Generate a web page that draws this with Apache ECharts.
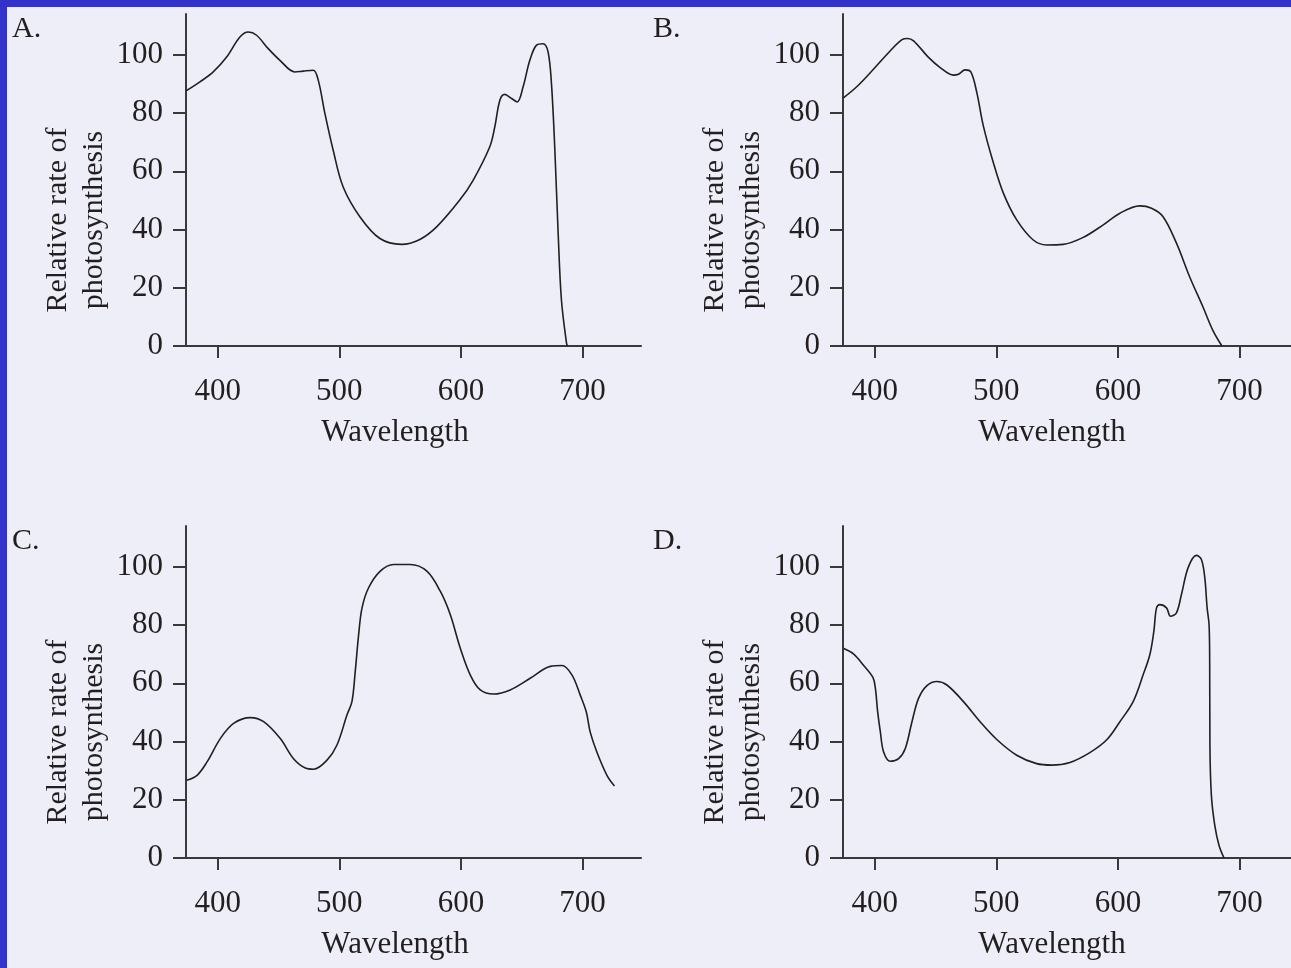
<!DOCTYPE html>
<html>
<head>
<meta charset="utf-8">
<script src="https://cdn.jsdelivr.net/npm/echarts@6/dist/echarts.min.js"></script>
<style>
  html, body { margin: 0; padding: 0; background: #eeeef8; }
  #main { width: 1291px; height: 968px; }
</style>
</head>
<body>
<div id="main"></div>
<script type="text/javascript">
// wavelength (nm) and relative rate
var wlA = [374, 385.5, 396.4, 407.4, 418.3, 425.2, 432, 441.6, 451.2, 463.5, 470.3, 478.6, 482.7, 488.2, 495, 503.2, 516.9, 533.4, 551.2, 566.2, 580, 599, 610, 623.7, 627.8, 632, 636, 641.6, 646.2, 651.1, 656.6, 662.1, 667.5, 671.6, 674.4, 677.2, 679.9, 682.6, 686.8, 687.6];
var rateA = [87.6, 90.7, 94.1, 99.2, 106.1, 107.8, 106.7, 102.1, 98.1, 94.1, 94.4, 94.7, 91.3, 79.8, 67.2, 54.6, 44.4, 36.9, 34.9, 36.6, 40.9, 50.1, 56.9, 68.4, 75.2, 84.4, 86.4, 85, 83.8, 89, 98.1, 103.3, 103.8, 101, 90.1, 67.2, 38.7, 15.8, 0.9, 0];

var wlB = [374.6, 385.5, 399.2, 412.9, 422.5, 427.1, 432, 444.3, 453.9, 464.8, 468.9, 474.4, 479.1, 484, 489.4, 497.6, 505.8, 516.8, 530.4, 541.4, 555, 571.5, 587.9, 601.6, 618, 627.6, 637.1, 648.1, 659, 669.9, 678.1, 685.5];
var rateB = [85.3, 89.1, 95.1, 101.4, 105.2, 105.6, 104.8, 99.1, 95.6, 93, 93.3, 94.8, 94.1, 87, 75.5, 62.9, 52.5, 43.3, 36.4, 34.7, 34.9, 37.3, 41.6, 45.6, 48.1, 47.3, 44.4, 35.3, 23.7, 13.4, 5.3, 0];

var wlC = [374.3, 383.1, 391.3, 402.2, 413.1, 426.9, 437.8, 451.5, 462.4, 472.1, 478.9, 489.9, 498.1, 506.3, 510.4, 513.1, 515.9, 518.7, 524.1, 533.7, 544.6, 558.3, 572, 583, 591.2, 599.4, 607.6, 615.9, 626.8, 640.5, 656.9, 673.4, 683, 691.2, 698, 703, 706.2, 711.7, 720, 726.2];
var rateC = [26.7, 28.4, 33, 41, 46.2, 48.2, 46.8, 41, 34.1, 30.9, 30.5, 33.6, 38.8, 49.1, 53.7, 64, 76.7, 85.9, 92.8, 98.5, 100.8, 100.8, 98.5, 91.6, 83.6, 72.1, 62.9, 57.7, 56.3, 57.7, 61.7, 65.8, 66.1, 62.9, 56, 50.2, 43.3, 36.4, 28.4, 24.7];

var wlD = [374.6, 382.8, 391, 398.6, 400.6, 402.5, 404.7, 407.4, 412.9, 419.7, 425.2, 430.7, 436.1, 443, 451.2, 459.4, 473, 486.7, 500.4, 516.8, 533.2, 545.5, 560.5, 576.9, 590.6, 601.6, 612.5, 620.7, 626.2, 629.5, 631.7, 634.4, 639.9, 643.2, 648.1, 652.2, 657.7, 664.5, 668.6, 671.4, 673.3, 674.9, 675.4, 675.6, 676.8, 679.6, 683.1, 687.2];
var rateD = [71.9, 70, 66.1, 62, 58.3, 50.2, 43.3, 36.4, 33.2, 34.1, 37.6, 46.8, 54.8, 59.2, 60.6, 59.4, 53.7, 46.8, 40.7, 35.3, 32.4, 31.9, 32.8, 36.2, 40.5, 46.8, 53.7, 62.9, 69.8, 77.8, 85.9, 87, 85.9, 83, 84.2, 90.5, 99.7, 103.9, 102.5, 96.2, 85.9, 80.1, 67.5, 38.8, 21.5, 11.2, 4.3, 0];

var panelLetters = ['A.', 'B.', 'C.', 'D.'];
var xTicks = [400, 500, 600, 700];
var yTicks = [0, 20, 40, 60, 80, 100];
var xName = 'Wavelength';
var yName = 'Relative rate of\nphotosynthesis';

var ink = '#231f20';
var axisInk = '#3a3838';
var serif = '"Liberation Serif", "DejaVu Serif", serif';

var chart = echarts.init(document.getElementById('main'), null, { renderer: 'canvas' });

function zip(xs, ys) {
  var out = [];
  for (var i = 0; i < xs.length; i++) out.push([xs[i], ys[i]]);
  return out;
}

var panels = [
  { left: 186, top: 14, data: zip(wlA, rateA) },
  { left: 843, top: 14, data: zip(wlB, rateB) },
  { left: 186, top: 526, data: zip(wlC, rateC) },
  { left: 843, top: 526, data: zip(wlD, rateD) }
];

var grids = [], xAxes = [], yAxes = [], series = [], graphics = [];

panels.forEach(function (p, i) {
  grids.push({ left: p.left, top: p.top, width: 455, height: 332, outerBoundsMode: 'none' });
  xAxes.push({
    type: 'value', gridIndex: i, min: 374, max: 748,
    splitLine: { show: false },
    axisLine: { onZero: false, lineStyle: { color: axisInk, width: 2 } },
    axisTick: { length: 12, customValues: xTicks, lineStyle: { color: axisInk, width: 2 } },
    axisLabel: { customValues: xTicks, margin: 30, color: ink, fontFamily: serif, fontSize: 31 },
    name: xName, nameLocation: 'middle', nameGap: 71,
    nameTextStyle: { color: ink, fontFamily: serif, fontSize: 31, padding: [0, 37, 0, 0] }
  });
  yAxes.push({
    type: 'value', gridIndex: i, min: 0, max: 114,
    splitLine: { show: false },
    axisLine: { show: true, onZero: false, lineStyle: { color: axisInk, width: 2 } },
    axisTick: { show: true, length: 13, customValues: yTicks, lineStyle: { color: axisInk, width: 2 } },
    axisLabel: { customValues: yTicks, margin: 23, color: ink, fontFamily: serif, fontSize: 31, padding: [6, 0, 0, 0] },
    name: yName, nameLocation: 'middle', nameGap: 74,
    nameTextStyle: { color: ink, fontFamily: serif, fontSize: 30, lineHeight: 36, padding: [0, 80, 0, 0] }
  });
  series.push({
    type: 'line', xAxisIndex: i, yAxisIndex: i,
    data: p.data, showSymbol: false, smooth: 0.35,
    lineStyle: { color: ink, width: 1.6 }, silent: true
  });
  graphics.push({
    type: 'text', left: i % 2 === 0 ? 12 : 653, top: i < 2 ? 14 : 526,
    style: { text: panelLetters[i], fill: ink, font: '30px ' + serif }
  });
});

// blue frame on the left and top edges
graphics.push({ type: 'rect', left: 0, top: 0, shape: { width: 7, height: 968 }, style: { fill: '#3333cc' } });
graphics.push({ type: 'rect', left: 0, top: 0, shape: { width: 1291, height: 7 }, style: { fill: '#3333cc' } });

chart.setOption({
  backgroundColor: '#eeeef8',
  animation: false,
  grid: grids,
  xAxis: xAxes,
  yAxis: yAxes,
  series: series,
  graphic: graphics
});
</script>
</body>
</html>
